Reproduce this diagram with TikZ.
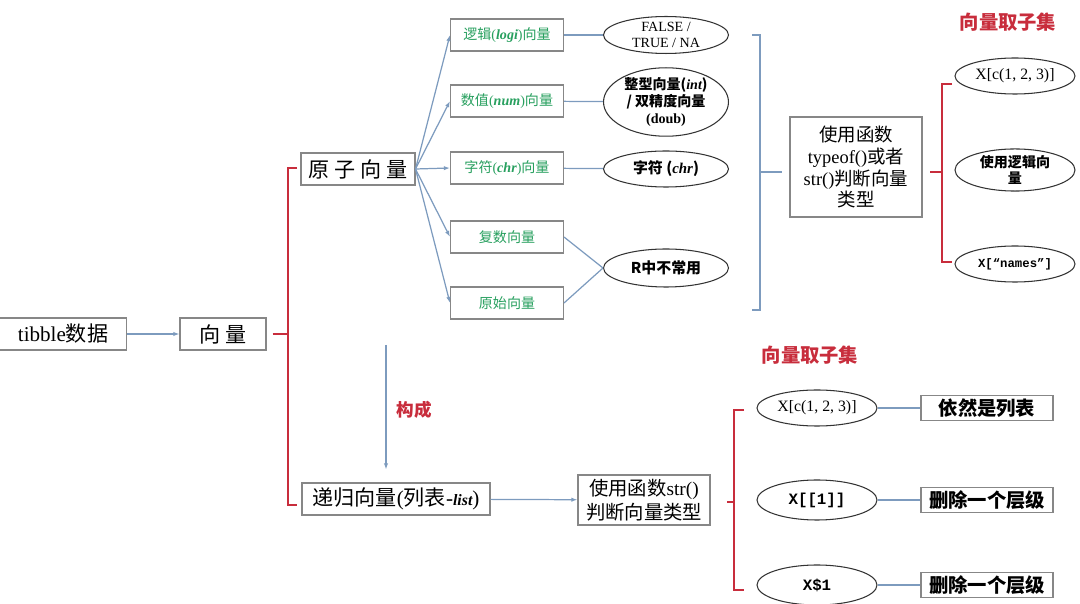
\documentclass[tikz,border=0pt]{standalone}
\usepackage{fontspec}
\setmainfont{Liberation Serif}
\setmonofont{Liberation Mono}
\newfontfamily\cjk{Noto Sans CJK SC}
\usetikzlibrary{arrows.meta, positioning, shapes.geometric}
\definecolor{linkblue}{RGB}{125, 155, 190}
\definecolor{brackred}{RGB}{200, 45, 60}
\definecolor{leafgreen}{RGB}{40, 160, 95}
\definecolor{boxgray}{RGB}{135, 135, 135}
\newcommand{\lat}[1]{{\rmfamily #1}}
\newcommand{\ital}[1]{{\rmfamily\bfseries\itshape #1}}

\begin{document}
\begin{tikzpicture}[x=0.02cm, y=-0.02cm, font=\cjk,
  mainbox/.style={draw=boxgray, fill=white, line width=0.6pt, inner sep=1pt,
    align=center, minimum height=0.64cm, font=\cjk\fontsize{12}{14}\selectfont},
  leafbox/.style={draw=boxgray, fill=white, line width=0.6pt, inner sep=1pt,
    minimum width=2.26cm, minimum height=0.64cm, text=leafgreen,
    font=\cjk\fontsize{8}{10}\selectfont},
  oval/.style={ellipse, draw=black!80, line width=0.6pt, inner sep=0pt,
    minimum width=2.5cm, minimum height=0.72cm, align=center,
    font=\cjk\fontsize{8}{9.5}\selectfont},
  tagbox/.style={draw=boxgray, line width=0.6pt, inner sep=1pt,
    minimum width=2.64cm, minimum height=0.5cm,
    font=\cjk\bfseries\fontsize{11}{13}\selectfont},
  link/.style={draw=linkblue, line width=0.7pt},
  tip/.style={-{Latex[length=3.5pt, width=2.5pt]}},
  brack/.style={draw=brackred, line width=0.6pt},
  redtag/.style={text=brackred, font=\cjk\bfseries\fontsize{11}{13}\selectfont}]

  \useasboundingbox (0,0) rectangle (1080,604);

  % left spine
  \node[mainbox, minimum width=2.54cm] (tibble) at (63,334) {\lat{tibble}数据};
  \node[mainbox, minimum width=1.72cm] (vec) at (223,334) {向 量};
  \draw[link, tip] (tibble) -- (vec);

  \draw[brack, line width=1.2pt] (297,168) -- (288,168) -- (288,505) -- (297,505);
  \draw[brack, line width=1.2pt] (vec.east) ++(6,0) -- (288,334);

  % atomic vectors
  \node[mainbox, minimum width=2.28cm] (atom) at (358,169) {原 子 向 量};

  \foreach \y/\nm/\txt in {35/lgc/{逻辑\lat{(}\ital{logi}\lat{)}向量}, 101/num/{数值\lat{(}\ital{num}\lat{)}向量},
                           168/chr/{字符\lat{(}\ital{chr}\lat{)}向量}, 237/cpx/{复数向量},
                           303/raw/{原始向量}} {
    \node[leafbox] (\nm) at (507,\y) {\txt};
    \draw[link, tip] (atom.east) -- (\nm.west);
  }

  \node[oval] (ovlgc) at (666,35) {\lat{FALSE /}\\\lat{TRUE / NA}};
  \node[oval, minimum height=1.1cm, font=\cjk\bfseries\fontsize{8}{9.5}\selectfont] (ovnum) at (666,102)
    {整型向量(\ital{int})\\/ 双精度向量\\\lat{(doub)}};
  \node[oval, font=\cjk\bfseries\fontsize{8.5}{10}\selectfont] (ovchr) at (666,169) {字符 (\ital{chr})};
  \node[oval, minimum height=0.76cm, font=\cjk\bfseries\fontsize{8.5}{10}\selectfont] (ovrare) at (666,268) {R中不常用};
  \draw[link] (lgc) -- (ovlgc);
  \draw[link] (num) -- (ovnum);
  \draw[link] (chr) -- (ovchr);
  \draw[link] (cpx.east) -- (ovrare.west);
  \draw[link] (raw.east) -- (ovrare.west);

  \draw[link] (752,35) -- (760,35) -- (760,310) -- (752,310);
  \draw[link] (760,172) -- (782,172);

  \node[mainbox, minimum width=2.64cm, minimum height=2cm, font=\cjk\fontsize{10.5}{12.5}\selectfont] (typeof) at (856,167)
    {使用函数\\\lat{typeof()}或者\\\lat{str()}判断向量\\类型};

  \draw[brack] (952,84) -- (942,84) -- (942,262) -- (952,262);
  \draw[brack] (930,172) -- (942,172);

  \node[redtag] (subA) at (1008,22) {向量取子集};
  \node[oval, minimum width=2.4cm, font=\fontsize{9}{10}\selectfont] (numA) at (1015,76) {X[c(1, 2, 3)]};
  \node[oval, minimum width=2.4cm, minimum height=0.84cm, font=\cjk\bfseries\fontsize{8}{9.5}\selectfont] (lgcA) at (1015,170)
    {使用逻辑向\\量};
  \node[oval, minimum width=2.4cm, font=\ttfamily\bfseries\fontsize{7}{8.5}\selectfont] (namA) at (1015,264) {X[“names”]};

  % recursive vectors
  \coordinate (ctop) at (386,345);
  \node[mainbox, minimum width=3.76cm] (list) at (396,499) {递归向量\lat{(}列表\lat{-}\ital{\small list}\lat{)}};
  \draw[link, tip, shorten >=0.26cm] (ctop) -- (ctop |- list.north);
  \node[redtag, font=\cjk\bfseries\fontsize{10}{12}\selectfont] (makeup) at (414,410) {构成};

  \node[mainbox, minimum width=2.64cm, minimum height=1cm, font=\cjk\fontsize{11}{14}\selectfont] (strbox) at (644,500)
    {使用函数\lat{str()}\\判断向量类型};
  \draw[link, tip] (list) -- (strbox);

  \draw[brack] (744,410) -- (734,410) -- (734,590) -- (744,590);
  \draw[brack] (727,502) -- (734,502);

  \node[redtag] (subB) at (810,355) {向量取子集};
  \foreach \y/\h/\nm/\otxt/\btxt in {408/0.72/ovA/{\rmfamily X[c(1, 2, 3)]}/依然是列表,
                                     500/0.8/ovB/{\ttfamily\bfseries X[[1]]}/删除一个层级,
                                     585/0.8/ovC/{\ttfamily\bfseries X\$1}/删除一个层级} {
    \node[oval, minimum width=2.4cm, minimum height=\h cm, font=\fontsize{9}{10}\selectfont] (\nm) at (817,\y) {\otxt};
    \node[tagbox] (tag\nm) at (987,\y) {\btxt};
    \draw[link] (\nm) -- (tag\nm);
  }

\end{tikzpicture}
\end{document}
